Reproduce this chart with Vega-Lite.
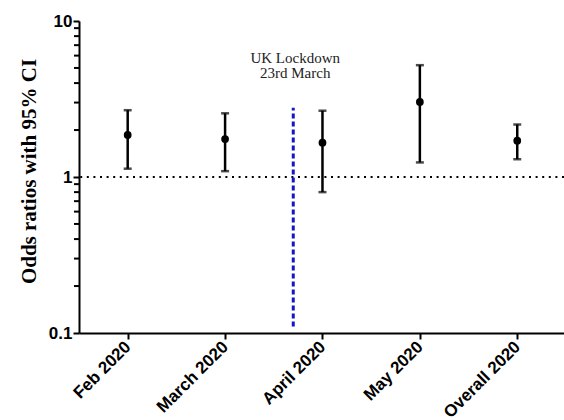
{
  "$schema": "https://vega.github.io/schema/vega-lite/v6.json",
  "autosize": "none",
  "width": 485,
  "height": 312,
  "padding": {"left": 79, "top": 21, "right": 0, "bottom": 87},
  "config": {"view": {"stroke": null}},
  "datasets": {
    "odds": [
      {"period": "Feb 2020", "pos": 1, "or": 1.86, "lo": 1.13, "hi": 2.68},
      {"period": "March 2020", "pos": 2, "or": 1.75, "lo": 1.09, "hi": 2.56},
      {"period": "April 2020", "pos": 3, "or": 1.66, "lo": 0.80, "hi": 2.66},
      {"period": "May 2020", "pos": 4, "or": 3.03, "lo": 1.24, "hi": 5.21},
      {"period": "Overall 2020", "pos": 5, "or": 1.71, "lo": 1.30, "hi": 2.17}
    ],
    "lockdown": [
      {"pos": 2.70, "lo": 0.11, "hi": 2.78}
    ],
    "note": [
      {"pos": 2.72, "y": 5.38, "label": "UK Lockdown"},
      {"pos": 2.72, "y": 4.30, "label": "23rd March"}
    ],
    "minor": [
      {"v": 0.2}, {"v": 0.3}, {"v": 0.4}, {"v": 0.5}, {"v": 0.6}, {"v": 0.7}, {"v": 0.8}, {"v": 0.9},
      {"v": 2}, {"v": 3}, {"v": 4}, {"v": 5}, {"v": 6}, {"v": 7}, {"v": 8}, {"v": 9}
    ],
    "ref": [{"y": 1}]
  },
  "layer": [
    {
      "data": {"name": "ref"},
      "mark": {"type": "rule", "color": "black", "strokeWidth": 2, "strokeDash": [2, 4.6]},
      "encoding": {
        "y": {"field": "y", "type": "quantitative"}
      }
    },
    {
      "data": {"name": "minor"},
      "mark": {"type": "rule", "color": "black", "strokeWidth": 2, "xOffset": -5, "x2Offset": 1},
      "encoding": {
        "x": {"datum": 0.5, "type": "quantitative"},
        "x2": {"datum": 0.5},
        "y": {"field": "v", "type": "quantitative"}
      }
    },
    {
      "data": {"name": "lockdown"},
      "mark": {"type": "rule", "color": "#1414c8", "strokeWidth": 3, "strokeDash": [5, 3]},
      "encoding": {
        "x": {"field": "pos", "type": "quantitative"},
        "y": {"field": "lo", "type": "quantitative"},
        "y2": {"field": "hi"}
      }
    },
    {
      "data": {"name": "note"},
      "mark": {"type": "text", "font": "Liberation Serif", "fontSize": 15, "color": "#222222", "align": "center", "baseline": "alphabetic"},
      "encoding": {
        "x": {"field": "pos", "type": "quantitative"},
        "y": {"field": "y", "type": "quantitative"},
        "text": {"field": "label"}
      }
    },
    {
      "data": {"name": "odds"},
      "mark": {"type": "rule", "color": "black", "strokeWidth": 2.5},
      "encoding": {
        "x": {"field": "pos", "type": "quantitative"},
        "y": {"field": "lo", "type": "quantitative"},
        "y2": {"field": "hi"}
      }
    },
    {
      "data": {"name": "odds"},
      "mark": {"type": "tick", "color": "black", "orient": "horizontal", "size": 8, "thickness": 2.5},
      "encoding": {
        "x": {"field": "pos", "type": "quantitative"},
        "y": {"field": "lo", "type": "quantitative"}
      }
    },
    {
      "data": {"name": "odds"},
      "mark": {"type": "tick", "color": "black", "orient": "horizontal", "size": 8, "thickness": 2.5},
      "encoding": {
        "x": {"field": "pos", "type": "quantitative"},
        "y": {"field": "hi", "type": "quantitative"}
      }
    },
    {
      "data": {"name": "odds"},
      "mark": {"type": "point", "filled": true, "color": "black", "opacity": 1, "size": 60, "shape": "circle"},
      "encoding": {
        "x": {
          "field": "pos", "type": "quantitative",
          "scale": {"domain": [0.5, 5.48], "nice": false, "zero": false},
          "axis": {
            "title": null,
            "values": [1, 2, 3, 4, 5],
            "labelExpr": "['','Feb 2020','March 2020','April 2020','May 2020','Overall 2020'][datum.value]",
            "labelAngle": -45,
            "labelAlign": "right",
            "labelBaseline": "middle",
            "labelFont": "Liberation Sans",
            "labelFontWeight": "bold",
            "labelFontSize": 17,
            "labelColor": "black",
            "labelPadding": 5,
            "domainColor": "black",
            "domainWidth": 2,
            "tickColor": "black",
            "tickWidth": 2,
            "tickSize": 6,
            "grid": false
          }
        },
        "y": {
          "field": "or", "type": "quantitative",
          "scale": {"type": "log", "domain": [0.1, 10]},
          "axis": {
            "title": "Odds ratios with 95% CI",
            "titleFont": "Liberation Serif",
            "titleFontWeight": "bold",
            "titleFontSize": 21,
            "titleColor": "black",
            "titlePadding": 9,
            "titleY": 150,
            "values": [0.1, 1, 10],
            "labelExpr": "datum.value == 0.1 ? '0.1' : datum.value == 1 ? '1' : '10'",
            "labelFont": "Liberation Sans",
            "labelFontWeight": "bold",
            "labelFontSize": 17,
            "labelColor": "black",
            "labelPadding": 1,
            "domainColor": "black",
            "domainWidth": 2,
            "tickColor": "black",
            "tickWidth": 2,
            "tickSize": 6,
            "grid": false
          }
        }
      }
    }
  ]
}
